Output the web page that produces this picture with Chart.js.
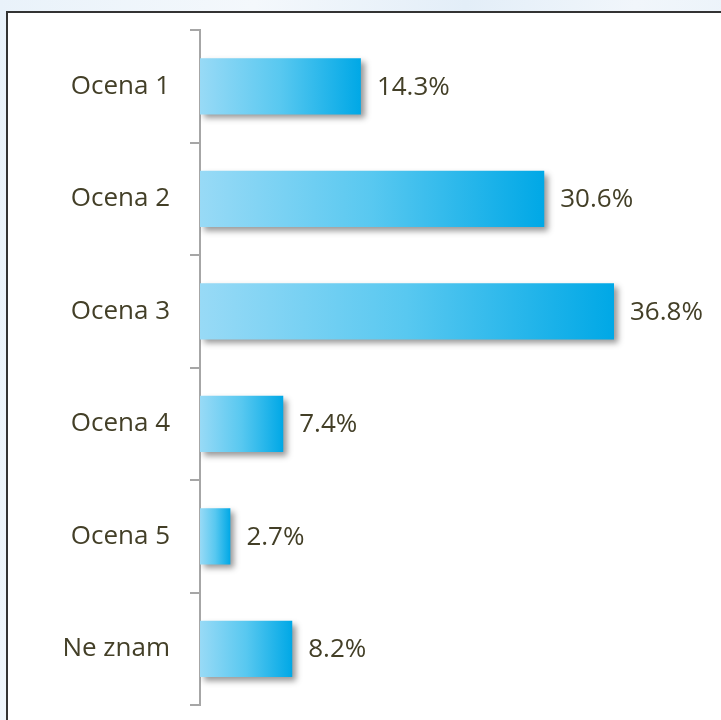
<!DOCTYPE html>
<html>
<head>
<meta charset="utf-8">
<script src="https://cdn.jsdelivr.net/npm/chart.js@4/dist/chart.umd.min.js"></script>
<style>
  html, body {
    margin: 0;
    padding: 0;
    width: 721px;
    height: 720px;
    overflow: hidden;
    background: linear-gradient(100deg, #e9f2fa 0%, #f4f8fc 30%, #e3eef8 55%, #f1f6fb 75%, #e6f0f9 100%);
  }
  .frame {
    position: absolute;
    left: 6px;
    top: 11px;
    width: 760px;
    height: 760px;
    background: #fff;
    border: 2px solid #333;
  }
  .chart-wrap {
    position: absolute;
    left: 0;
    top: 0;
    width: 721px;
    height: 720px;
  }
</style>
</head>
<body>
<div class="frame"></div>
<div class="chart-wrap"><canvas id="chart"></canvas></div>
<script>
const categories = ["Ocena 1", "Ocena 2", "Ocena 3", "Ocena 4", "Ocena 5", "Ne znam"]
const values = [14.3, 30.6, 36.8, 7.4, 2.7, 8.2]
const valueLabels = ["14.3%", "30.6%", "36.8%", "7.4%", "2.7%", "8.2%"]

const textColor = "#433f27"
const axisColor = "#a6a6a6"
const labelFont = { family: "'Open Sans', sans-serif", size: 26 }

// gradient per bar, from its own start to its end
const barGradient = (context) => {
  const chart = context.chart
  const { ctx, scales } = chart
  const fallback = "#3cbdee"
  if (!scales.x) return fallback
  const v = values[context.dataIndex]
  const x0 = scales.x.getPixelForValue(0)
  const x1 = scales.x.getPixelForValue(v)
  if (!isFinite(x0) || !isFinite(x1) || x1 <= x0) return fallback
  const g = ctx.createLinearGradient(x0, 0, x1, 0)
  g.addColorStop(0, "#98daf6")
  g.addColorStop(0.5, "#58c8f0")
  g.addColorStop(1, "#00a8e6")
  return g
}

const barShadow = {
  id: "barShadow",
  beforeDatasetDraw(chart) {
    const ctx = chart.ctx
    ctx.save()
    ctx.shadowColor = "rgba(0, 0, 0, 0.4)"
    ctx.shadowBlur = 6
    ctx.shadowOffsetX = 4
    ctx.shadowOffsetY = 4
  },
  afterDatasetDraw(chart) {
    chart.ctx.restore()
  },
}

const valueText = {
  id: "valueText",
  afterDatasetsDraw(chart) {
    const ctx = chart.ctx
    const meta = chart.getDatasetMeta(0)
    ctx.save()
    ctx.fillStyle = textColor
    ctx.font = labelFont.size + "px " + labelFont.family
    ctx.textAlign = "left"
    ctx.textBaseline = "middle"
    meta.data.forEach((bar, i) => {
      ctx.fillText(valueLabels[i], bar.x + 16, bar.y + 1)
    })
    ctx.restore()
  },
}

new Chart(document.getElementById("chart"), {
  type: "bar",
  data: {
    labels: categories,
    datasets: [
      {
        data: values,
        backgroundColor: barGradient,
        borderWidth: 0,
        categoryPercentage: 0.5,
        barPercentage: 1.0,
      },
    ],
  },
  options: {
    indexAxis: "y",
    responsive: true,
    maintainAspectRatio: false,
    animation: false,
    layout: { padding: { top: 30, bottom: 15, left: 0, right: 71 } },
    scales: {
      x: {
        display: false,
        min: 0,
        max: 40,
      },
      y: {
        afterFit: (scale) => {
          scale.width = 200
          scale.paddingTop = 0
          scale.paddingBottom = 0
        },
        border: { display: true, color: axisColor, width: 2 },
        grid: {
          offset: true,
          drawOnChartArea: false,
          drawTicks: true,
          tickLength: 10,
          tickColor: axisColor,
          lineWidth: 2,
        },
        ticks: {
          color: textColor,
          font: labelFont,
          padding: 20,
        },
      },
    },
    plugins: {
      legend: { display: false },
      tooltip: { enabled: false },
    },
  },
  plugins: [barShadow, valueText],
})
</script>
</body>
</html>
